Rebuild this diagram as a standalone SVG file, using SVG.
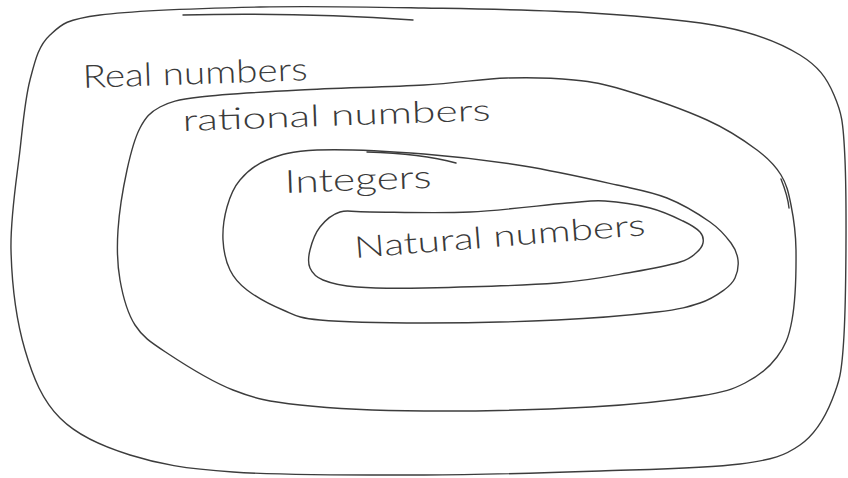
<svg xmlns="http://www.w3.org/2000/svg" width="848" height="478" viewBox="0 0 848 478">
<style>
.b{fill:none;stroke:#3c3c3c;stroke-width:1.4;stroke-linecap:round;stroke-linejoin:round}
.t{font-family:Lato,"Open Sans","Liberation Sans",sans-serif;font-weight:300;fill:#3a3a3a}
</style>
<rect width="848" height="478" fill="#ffffff"/>
<g id="real">
<path class="b" d="M100,15 C135,10.3 206,8.2 260,7 C314,5.8 368.8,7 424,8 C479.2,9 541,9.8 591,13 C641,16.2 689.2,20 724,27 C758.8,34 781.7,43.7 800,55 C818.3,66.3 826.5,77.5 834,95 C841.5,112.5 843.3,120 845,160 C846.7,200 846.2,295 844,335 C841.8,375 839.3,381.7 832,400 C824.7,418.3 815.3,434.3 800,445 C784.7,455.7 773.3,459.7 740,464 C706.7,468.3 652.7,469.2 600,471 C547.3,472.8 485.2,474.8 424,475 C362.8,475.2 282,475.3 233,472 C184,468.7 158.8,464 130,455 C101.2,446 77.5,435.5 60,418 C42.5,400.5 33.2,378 25,350 C16.8,322 11.8,283.3 11,250 C10.2,216.7 16.8,178.3 20,150 C23.2,121.7 25,99.2 30,80 C35,60.8 38.3,45.8 50,35 C61.7,24.2 65,19.7 100,15 Z"/>
<path class="b" d="M183,15 C260,13 340,15 413,20"/>
<text class="t" x="83" y="88" font-size="32" textLength="225" lengthAdjust="spacingAndGlyphs" transform="rotate(-2 83 88)">Real numbers</text>
</g>
<g id="rational">
<path class="b" d="M200,97 C223.3,94.2 262.7,92 300,90 C337.3,88 389.5,87 424,85 C458.5,83 482,78.8 507,78 C532,77.2 554.5,78 574,80 C593.5,82 601.8,83.3 624,90 C646.2,96.7 684.8,110 707,120 C729.2,130 744.7,140.8 757,150 C769.3,159.2 775.3,165.8 781,175 C786.7,184.2 788.5,192.5 791,205 C793.5,217.5 795.8,230.8 796,250 C796.2,269.2 795.2,302.2 792,320 C788.8,337.8 784.8,346.5 777,357 C769.2,367.5 757.8,376.5 745,383 C732.2,389.5 725.7,392 700,396 C674.3,400 637,404.5 591,407 C545,409.5 472.5,411.3 424,411 C375.5,410.7 331.8,408.5 300,405 C268.2,401.5 255.2,398.7 233,390 C210.8,381.3 183.3,363.8 167,353 C150.7,342.2 142.8,337.2 135,325 C127.2,312.8 122.8,295.8 120,280 C117.2,264.2 116.8,248.3 118,230 C119.2,211.7 123.3,187 127,170 C130.7,153 134.5,138.5 140,128 C145.5,117.5 150,112.2 160,107 C170,101.8 176.7,99.8 200,97 Z"/>
<path class="b" d="M781,179 C785,189 788,198 789,208"/>
<text class="t" x="183" y="131" font-size="30" textLength="308" lengthAdjust="spacingAndGlyphs" transform="rotate(-2 183 131)">rational numbers</text>
</g>
<g id="integers">
<path class="b" d="M267,160 C279.8,155 290.8,151 317,150 C343.2,149 389.5,151.3 424,154 C458.5,156.7 491.8,160.8 524,166 C556.2,171.2 593.2,179.7 617,185 C640.8,190.3 651.5,191.8 667,198 C682.5,204.2 699.3,214.5 710,222 C720.7,229.5 726.3,236.7 731,243 C735.7,249.3 737.3,254.2 738,260 C738.7,265.8 737.3,273 735,278 C732.7,283 729.8,285.8 724,290 C718.2,294.2 711.2,299.3 700,303 C688.8,306.7 680.8,309.2 657,312 C633.2,314.8 595.8,318.2 557,320 C518.2,321.8 463.5,323 424,323 C384.5,323 343.5,322.2 320,320 C296.5,317.8 295.2,315 283,310 C270.8,305 255.8,296.7 247,290 C238.2,283.3 234,278.3 230,270 C226,261.7 223.5,250.5 223,240 C222.5,229.5 224.2,217 227,207 C229.8,197 233.3,187.8 240,180 C246.7,172.2 254.2,165 267,160 Z"/>
<path class="b" d="M367,152 C400,153 430,156 456,163"/>
<text class="t" x="285" y="193" font-size="32" textLength="147" lengthAdjust="spacingAndGlyphs" transform="rotate(-2 285 193)">Integers</text>
</g>
<g id="natural">
<path class="b" d="M340,212 C348.3,209.5 348.3,212 370,212 C391.7,212 437.2,213.5 470,212 C502.8,210.5 544.5,204.8 567,203 C589.5,201.2 591.2,200.2 605,201 C618.8,201.8 637,204.7 650,208 C663,211.3 674.7,217 683,221 C691.3,225 696.7,228.3 700,232 C703.3,235.7 703.7,239.5 703,243 C702.3,246.5 699.8,249.8 696,253 C692.2,256.2 690.5,258.8 680,262 C669.5,265.2 653.5,268.5 633,272 C612.5,275.5 591.8,280.3 557,283 C522.2,285.7 457.3,287.3 424,288 C390.7,288.7 373.8,288.3 357,287 C340.2,285.7 330.8,283.2 323,280 C315.2,276.8 312.2,273 310,268 C307.8,263 308.3,256.8 310,250 C311.7,243.2 315,233.3 320,227 C325,220.7 331.7,214.5 340,212 Z"/>
<text class="t" x="355" y="258" font-size="30" textLength="292" lengthAdjust="spacingAndGlyphs" transform="rotate(-4.5 355 258)">Natural numbers</text>
</g>
<g id="connectors"></g>
</svg>
